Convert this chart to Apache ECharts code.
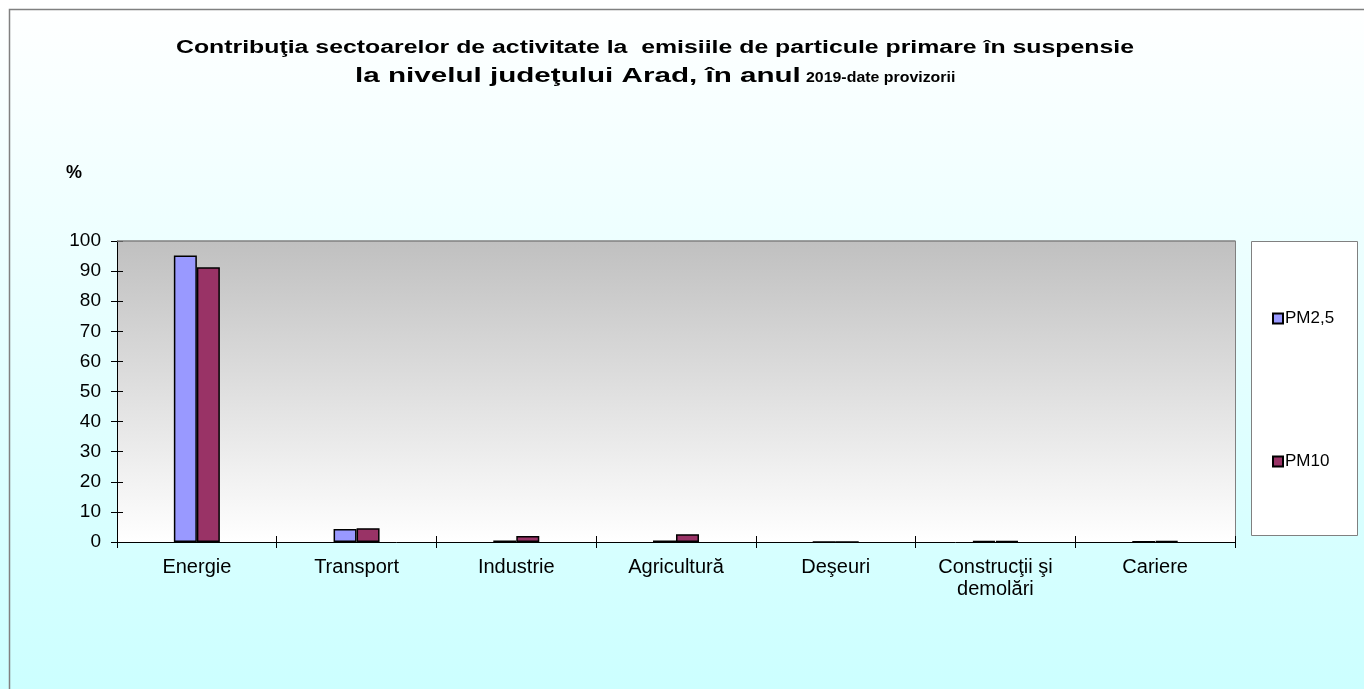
<!DOCTYPE html>
<html>
<head>
<meta charset="utf-8">
<script src="https://cdn.jsdelivr.net/npm/echarts@6/dist/echarts.min.js"></script>
<style>
  html, body { margin: 0; padding: 0; }
  #chart { width: 1364px; height: 689px; }
</style>
</head>
<body>
<div id="chart"></div>
<script>
// Sectors of activity and their share (%) of primary suspended particle emissions
const categories = ['Energie', 'Transport', 'Industrie', 'Agricultură', 'Deşeuri', 'Construcţii şi\ndemolări', 'Cariere'];
const pm25 = [95.2, 4.3, 0.5, 0.5, 0, 0.3, 0.1];
const pm10 = [91.3, 4.6, 2.0, 2.6, 0, 0.3, 0.3];
const yTicks = [0, 10, 20, 30, 40, 50, 60, 70, 80, 90, 100];
const titleLine1 = 'Contribuţia sectoarelor de activitate la  emisiile de particule primare în suspensie';
const titleLine2a = 'la nivelul judeţului Arad, în anul';
const titleLine2b = '2019-date provizorii';

const chart = echarts.init(document.getElementById('chart'), null, { renderer: 'canvas' });
const font = 'Liberation Sans, Arial, sans-serif';

// Hidden helper axes that only draw the inner half of the crossing tick marks
const innerTickAxis = {
  axisLine: { show: false },
  axisTick: { show: true, inside: true, length: 6, lineStyle: { color: '#000' } },
  axisLabel: { show: false },
  splitLine: { show: false }
};

chart.setOption({
  animation: false,
  backgroundColor: new echarts.graphic.LinearGradient(0, 0, 0, 1, [
    { offset: 0, color: '#ffffff' },
    { offset: 1, color: '#ccffff' }
  ]),
  graphic: [
    { type: 'rect', shape: { x: 9.5, y: 9.5, width: 1400, height: 700 },
      style: { fill: 'none', stroke: '#808080', lineWidth: 1.5 }, z: 100 },
    { type: 'rect', shape: { x: 1251.5, y: 241.5, width: 106, height: 294 },
      style: { fill: '#ffffff', stroke: '#808080', lineWidth: 1 }, z: 0 },
    { type: 'text', x: 66, y: 164,
      style: { text: '%', font: 'bold 18px ' + font, fill: '#000' } },
    // Title, set in a horizontally widened bold face
    { type: 'text', x: 655, y: 48, scaleX: 1.38, scaleY: 1,
      style: { text: titleLine1, font: 'bold 18px ' + font, fill: '#000',
        align: 'center', verticalAlign: 'middle' } },
    { type: 'text', x: 355, y: 76, scaleX: 1.41, scaleY: 1,
      style: { text: titleLine2a, font: 'bold 21px ' + font, fill: '#000',
        align: 'left', verticalAlign: 'middle' } },
    { type: 'text', x: 806, y: 78, scaleX: 1.06, scaleY: 1,
      style: { text: titleLine2b, font: 'bold 15px ' + font, fill: '#000',
        align: 'left', verticalAlign: 'middle' } }
  ],
  legend: {
    orient: 'vertical', left: 1267, top: 305, itemGap: 126,
    itemWidth: 10, itemHeight: 10, icon: 'rect',
    textStyle: { fontFamily: font, fontSize: 17, color: '#000', padding: [0, 0, 0, -3] },
    data: ['PM2,5', 'PM10']
  },
  grid: { left: 117, right: 129, top: 241, bottom: 147, containLabel: false,
    show: true, borderWidth: 0,
    backgroundColor: new echarts.graphic.LinearGradient(0, 0, 0, 1, [
      { offset: 0, color: '#c0c0c0' },
      { offset: 1, color: '#ffffff' }
    ])
  },
  xAxis: [{
    type: 'category', data: categories,
    axisLine: { lineStyle: { color: '#000', width: 1 } },
    axisTick: { show: true, length: 6, lineStyle: { color: '#000' } },
    axisLabel: { fontFamily: font, fontSize: 20, color: '#000', margin: 14, lineHeight: 22, interval: 0 }
  }, Object.assign({ type: 'category', data: categories, position: 'bottom' }, innerTickAxis)],
  yAxis: [{
    type: 'value', min: 0, max: 100, interval: 10,
    axisLine: { show: true, lineStyle: { color: '#000' } },
    axisTick: { show: true, length: 6, lineStyle: { color: '#000' } },
    splitLine: { show: false },
    axisLabel: { fontFamily: font, fontSize: 19, color: '#000', margin: 16,
      formatter: v => yTicks.includes(v) ? String(v) : '' }
  }, {
    type: 'value', min: 0, max: 100, interval: 100, position: 'right',
    axisLine: { show: true, lineStyle: { color: '#808080' } },
    axisTick: { show: false }, axisLabel: { show: false }, splitLine: { show: false }
  }, Object.assign({ type: 'value', min: 0, max: 100, interval: 10, position: 'left' }, innerTickAxis)],
  series: [
    { name: 'PM2,5', type: 'bar', data: pm25, barWidth: 23, barGap: '0%',
      itemStyle: { color: '#9999ff', borderColor: '#000', borderWidth: 1.5 } },
    { name: 'PM10', type: 'bar', data: pm10, barWidth: 23, barGap: '0%',
      itemStyle: { color: '#993366', borderColor: '#000', borderWidth: 1.5 },
      markLine: { silent: true, symbol: 'none', label: { show: false },
        lineStyle: { color: '#808080', type: 'solid', width: 1.5 },
        data: [{ yAxis: 100 }] } }
  ]
});
</script>
</body>
</html>
